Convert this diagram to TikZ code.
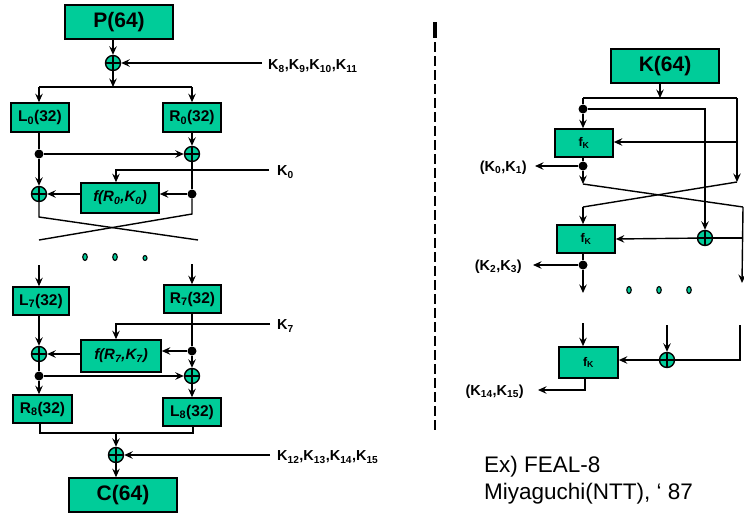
\documentclass[tikz,border=0pt]{standalone}
\usepackage{fontspec}
\setmainfont{Liberation Sans}
\usetikzlibrary{arrows.meta,shapes.geometric}
\definecolor{tealfill}{RGB}{0,204,153}
\tikzset{
  conn/.style={line width=1.4pt},
  arr/.style={conn,-{Stealth[length=8.5pt,width=7.5pt,inset=3pt]}},
  box/.style={draw=black,line width=1.6pt,fill=tealfill,inner sep=0pt,font=\bfseries\fontsize{15.5}{17}\selectfont},
  bigbox/.style={box,font=\bfseries\fontsize{21}{24}\selectfont},
  fbox/.style={box,font=\bfseries\itshape\fontsize{15}{17}\selectfont},
  fkbox/.style={box,font=\bfseries\fontsize{12.5}{14}\selectfont},
  xor/.style={circle,draw=black,line width=1.4pt,fill=tealfill,minimum size=15pt,inner sep=0pt,
    path picture={\draw[line width=1.2pt] (path picture bounding box.north) -- (path picture bounding box.south)
      (path picture bounding box.west) -- (path picture bounding box.east);}},
  jdot/.style={circle,fill=black,minimum size=9pt,inner sep=0pt},
  edot/.style={ellipse,draw=black,line width=1.1pt,fill=tealfill,minimum width=4.5pt,minimum height=7pt,inner sep=0pt},
  edotsmall/.style={edot,minimum width=4pt,minimum height=5pt},
  klab/.style={font=\bfseries\fontsize{14.5}{16}\selectfont,inner sep=0pt},
  note/.style={font=\fontsize{22.5}{27}\selectfont,inner sep=0pt,anchor=base west},
}
\begin{document}
\begin{tikzpicture}[x=1pt,y=-1pt]
\useasboundingbox (0,0) rectangle (744,517);
% ================= LEFT =================
\node[bigbox,minimum width=108pt,minimum height=34pt] (P) at (119,22) {P(64)};
\node[xor] (x1) at (113,63) {};
\coordinate (k1) at (262,63);
\node[klab,anchor=west] (k1lab) at (268,66) {K\textsubscript{8},K\textsubscript{9},K\textsubscript{10},K\textsubscript{11}};
\draw[arr] (P.south -| x1) -- (x1);
\draw[arr] (k1) -- (x1);
\coordinate (s1) at (113,87);
\draw[arr] (x1) -- (s1);
\node[box,minimum width=58pt,minimum height=29pt] (L0) at (40,117.5) {L\textsubscript{0}(32)};
\node[box,minimum width=58pt,minimum height=29pt] (R0) at (192,117.5) {R\textsubscript{0}(32)};
\coordinate (s1l) at (39,87);
\coordinate (s1r) at (192,87);
\draw[conn] (s1l) -- (s1r);
\draw[arr] (s1l) -- (s1l |- L0.north);
\draw[arr] (s1r) -- (R0.north);
\node[jdot] (d1) at (39,154) {};
\node[xor] (x2) at (192,154) {};
\node[xor] (x3) at (39,194) {};
\node[jdot] (d2) at (192,194) {};
\node[fbox,minimum width=78pt,minimum height=30pt] (f0) at (120,198) {f(R\textsubscript{0},K\textsubscript{0})};
\draw[conn] (L0.south -| d1) -- (d1);
\draw[arr] (d1) -- (x3);
\draw[arr] (d1) -- (x2);
\draw[arr] (R0.south) -- (x2);
\draw[conn] (x2) -- (d2);
\draw[arr] (d2) -- (d2 -| f0.east);
\draw[arr] (f0.west |- x3) -- (x3);
\coordinate (k0) at (269,170);
\coordinate (k0c) at (116,170);
\node[klab,anchor=west] (k0lab) at (277,172) {K\textsubscript{0}};
\draw[arr] (k0) -- (k0c) -- (k0c |- f0.north);
\coordinate (c1) at (39,217);
\coordinate (c2) at (192,214);
\coordinate (c3) at (39,240);
\coordinate (c4) at (198,240);
\draw[conn] (x3) -- (c1) -- (c4);
\draw[conn] (d2) -- (c2) -- (c3);
\node[edot] (e1) at (85,257) {};
\node[edot] (e2) at (115,257) {};
\node[edotsmall] (e3) at (145,258) {};
% lower rounds
\node[box,minimum width=56pt,minimum height=28pt] (L7) at (41,301) {L\textsubscript{7}(32)};
\node[box,minimum width=57pt,minimum height=28pt] (R7) at (192.5,299) {R\textsubscript{7}(32)};
\coordinate (a1) at (39,265);
\coordinate (a2) at (192,264);
\draw[arr] (a1) -- (a1 |- L7.north);
\draw[arr] (a2) -- (a2 |- R7.north);
\node[fbox,minimum width=80pt,minimum height=32pt] (f7) at (121,356) {f(R\textsubscript{7},K\textsubscript{7})};
\node[jdot] (d3) at (192,351) {};
\node[xor] (x4) at (39,354) {};
\node[xor] (x5) at (192,376) {};
\node[jdot] (d4) at (39,376) {};
\coordinate (k7) at (270,324);
\coordinate (k7c) at (116,324);
\node[klab,anchor=west] (k7lab) at (277,326) {K\textsubscript{7}};
\draw[arr] (k7) -- (k7c) -- (k7c |- f7.north);
\draw[conn] (R7.south -| d3) -- (d3);
\draw[arr] (d3) -- (d3 -| f7.east);
\draw[arr] (d3) -- (x5);
\draw[arr] (L7.south -| x4) -- (x4);
\draw[arr] (f7.west |- x4) -- (x4);
\draw[conn] (x4) -- (d4);
\draw[arr] (d4) -- (x5);
\node[box,minimum width=59pt,minimum height=28pt] (R8) at (42.5,409) {R\textsubscript{8}(32)};
\node[box,minimum width=58pt,minimum height=28pt] (L8) at (192,412) {L\textsubscript{8}(32)};
\draw[arr] (d4) -- (d4 |- R8.north);
\draw[arr] (x5) -- (x5 |- L8.north);
\coordinate (j1) at (40,433);
\coordinate (j2) at (193,433);
\draw[conn] (j1 |- R8.south) -- (j1) -- (j2) -- (j2 |- L8.south);
\node[xor] (x6) at (116,455) {};
\coordinate (j3) at (116,433);
\draw[arr] (j3) -- (x6);
\coordinate (k12) at (270,455);
\node[klab,anchor=west] (k12lab) at (277,457) {K\textsubscript{12},K\textsubscript{13},K\textsubscript{14},K\textsubscript{15}};
\draw[arr] (k12) -- (x6);
\node[bigbox,minimum width=108pt,minimum height=34pt] (C) at (123,495) {C(64)};
\draw[arr] (x6) -- (x6 |- C.north);
% ================= DIVIDER =================
\coordinate (v1) at (435,22);
\coordinate (v2) at (435,38);
\coordinate (v3) at (435,432);
\draw[line width=3.5pt] (v1) -- (v2);
\draw[line width=2.5pt,dash pattern=on 10pt off 4pt] (435,42) -- (v3);
% ================= RIGHT =================
\node[bigbox,minimum width=108pt,minimum height=34pt] (K) at (665,66) {K(64)};
\coordinate (t0) at (660,98);
\coordinate (tl) at (583,98);
\coordinate (tr) at (737,98);
\draw[arr] (K.south -| t0) -- (t0);
\draw[conn] (tl) -- (tr);
\node[fkbox,minimum width=58pt,minimum height=28pt] (f1) at (584,143) {f\textsubscript{K}};
\node[jdot] (d5) at (583,109) {};
\draw[conn] (tl) -- (d5);
\draw[arr] (d5) -- (d5 |- f1.north);
\node[xor] (x7) at (705,238) {};
\coordinate (r1) at (705,109);
\draw[arr] (d5) -- (r1) -- (x7);
\coordinate (rb) at (737,182);
\draw[arr] (tr) -- (rb);
\coordinate (rm) at (737,142);
\draw[arr] (rm) -- (rm -| f1.east);
\node[jdot] (d6) at (583,166) {};
\draw[conn] (f1.south -| d6) -- (d6);
\coordinate (o1) at (535,166);
\draw[arr] (d6) -- (o1);
\node[klab,anchor=east] (o1lab) at (527,168) {(K\textsubscript{0},K\textsubscript{1})};
\coordinate (q1) at (583,184);
\draw[arr] (d6) -- (q1);
\coordinate (q2) at (743,207);
\coordinate (q3) at (583,207);
\draw[conn] (q1) -- (q2);
\draw[conn] (rb) -- (q3);
\node[fkbox,minimum width=58pt,minimum height=28pt] (f2) at (586,239) {f\textsubscript{K}};
\draw[arr] (q3) -- (q3 |- f2.north);
\coordinate (q4) at (742,283);
\draw[arr] (q2) -- (q4);
\coordinate (q5) at (742,238);
\draw[conn] (q5) -- (x7);
\draw[arr] (x7) -- (f2.east);
\node[jdot] (d7) at (583,265) {};
\draw[conn] (f2.south -| d7) -- (d7);
\coordinate (o2) at (533,265);
\draw[arr] (d7) -- (o2);
\node[klab,anchor=east] (o2lab) at (522,267) {(K\textsubscript{2},K\textsubscript{3})};
\coordinate (q6) at (583,293);
\draw[arr] (d7) -- (q6);
\node[edot] (e4) at (629,290) {};
\node[edot] (e5) at (659,290) {};
\node[edot] (e6) at (689,290) {};
\node[fkbox,minimum width=59pt,minimum height=31pt] (f3) at (588.5,362.5) {f\textsubscript{K}};
\coordinate (b1) at (583,323);
\draw[arr] (b1) -- (b1 |- f3.north);
\node[xor] (x8) at (667,360) {};
\coordinate (b2) at (667,325);
\draw[arr] (b2) -- (x8);
\coordinate (b3) at (740,325);
\coordinate (b4) at (740,360);
\draw[conn] (b3) -- (b4) -- (x8);
\draw[arr] (x8) -- (x8 -| f3.east);
\coordinate (b5) at (585,390);
\coordinate (o3) at (538,390);
\draw[arr] (b5 |- f3.south) -- (b5) -- (o3);
\node[klab,anchor=east] (o3lab) at (524,392) {(K\textsubscript{14},K\textsubscript{15})};
% notes
\node[note] (n1) at (484,472) {Ex) FEAL-8};
\node[note] (n2) at (484,499) {Miyaguchi(NTT), ‘ 87};
\end{tikzpicture}
\end{document}
